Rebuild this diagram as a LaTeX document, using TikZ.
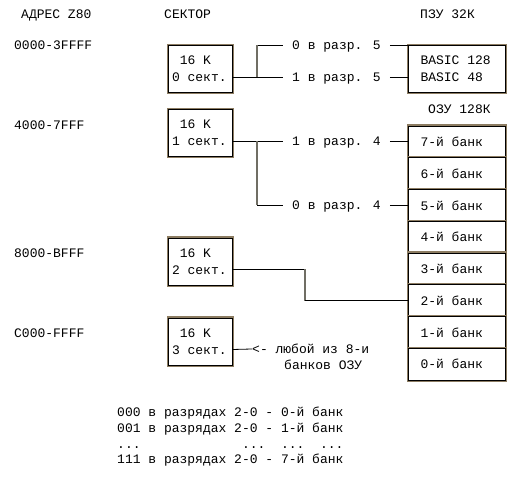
\documentclass[tikz,border=0pt]{standalone}
\usepackage{fontspec}
\setmainfont{Liberation Mono}
\usetikzlibrary{positioning,calc}
\definecolor{framec}{RGB}{140,124,98}
\definecolor{wiregray}{RGB}{112,110,100}
\tikzset{
  every node/.style={font=\fontsize{13}{17}\selectfont, inner sep=0pt},
  txt/.style={anchor=west, text height=8.8pt, text depth=0pt},
  framed/.style={draw=black, line width=0.8pt, fill=white, outer sep=0pt,
    preaction={draw=framec, line width=3.6pt}},
  secbox/.style={framed, minimum width=64pt, minimum height=47pt,
    text width=57pt, inner xsep=3.5pt, align=flush left},
  rombox/.style={framed, minimum width=97pt, minimum height=47pt,
    text width=73pt, inner xsep=12pt, align=flush left},
  bankbox/.style={rombox, minimum height=31.75pt},
  bitlbl/.style={txt, inner xsep=9pt},
  wire/.style={draw=black, line width=0.8pt},
  vwire/.style={draw=wiregray, line width=1.8pt},
}
\begin{document}
\begin{tikzpicture}[x=1pt,y=-1pt]
\fill[white] (0,0) rectangle (525,478);
\useasboundingbox (0,0) rectangle (525,478);

% headers
\node[txt] (hadr) at (21,14) {АДРЕС Z80};
\node[txt] (hsec) at (164,14) {СЕКТОР};
\node[txt] (hrom) at (420,14) {ПЗУ 32К};
\node[txt] (hram) at (428,109) {ОЗУ 128К};

% Z80 addresses
\foreach \i/\y/\a in {0/45/0000-3FFFF,1/125/4000-7FFF,2/253/8000-BFFF,3/333/C000-FFFF}
  \node[txt] (adr\i) at (14,\y) {\a};

% sectors
\foreach \i/\y in {0/69,1/133,2/261.5,3/341.5}
  \node[secbox] (sec\i) at (200.5,\y) {\hphantom{0}16 K\\\i\ сект.};

% ROM and RAM banks
\node[rombox] (rom) at (457,69) {BASIC 128\\BASIC 48};
\foreach \k in {7,6,...,0}
  \node[bankbox] (bank\k) at (457,{142+(7-\k)*31.75}) {\k-й банк};

% sector 0 -> ROM
\coordinate (j0) at (257,0);
\node[bitlbl] (b05) at (283,45) {0 в разр. 5};
\node[bitlbl] (b15) at (283,77) {1 в разр. 5};
\draw[wire] ([yshift=-8pt]sec0.east) -- (b15.west);
\draw[wire] (j0 |- b05) -- (b05.west);
\draw[vwire] (j0 |- b05) -- (j0 |- b15);
\draw[wire] (b05.east) -- (rom.west |- b05);
\draw[wire] (b15.east) -- (rom.west |- b15);

% sector 1 -> banks 7 / 5
\coordinate (j1) at (257,0);
\node[bitlbl] (b14) at (283,141) {1 в разр. 4};
\node[bitlbl] (b04) at (283,205) {0 в разр. 4};
\draw[wire] ([yshift=-8pt]sec1.east) -- (b14.west);
\draw[wire] (j1 |- b04) -- (b04.west);
\draw[vwire] (j1 |- b14) -- (j1 |- b04);
\draw[wire] (b14.east) -- (bank7.west |- b14);
\draw[wire] (b04.east) -- (bank5.west |- b04);

% sector 2 -> bank 2
\coordinate (s2) at ([yshift=-8pt]sec2.east);
\coordinate (j2) at (305,0);
\draw[wire] (s2) -- (j2 |- s2);
\draw[vwire] (j2 |- s2) -- (j2 |- bank2);
\draw[wire] (j2 |- bank2) -- (bank2.west);

% sector 3 -> any bank
\node[txt] (anyb) at (252,349) {<- любой из 8-и};
\node[txt] (anyb2) at (284,365) {банков ОЗУ};
\draw[wire] ([yshift=-8pt]sec3.east) -- (anyb.west);

% bank selection table
\node[txt] (tab0) at (117,412) {000 в разрядах 2-0 - 0-й банк};
\node[txt] (tab1) at (117,428) {001 в разрядах 2-0 - 1-й банк};
\node[txt] (tab2) at (117,444) {...\ \ \ \ \ \ \ \ \ \ \ \ \ ...\ \ ...\ \ ...};
\node[txt] (tab3) at (117,459) {111 в разрядах 2-0 - 7-й банк};
\end{tikzpicture}
\end{document}
